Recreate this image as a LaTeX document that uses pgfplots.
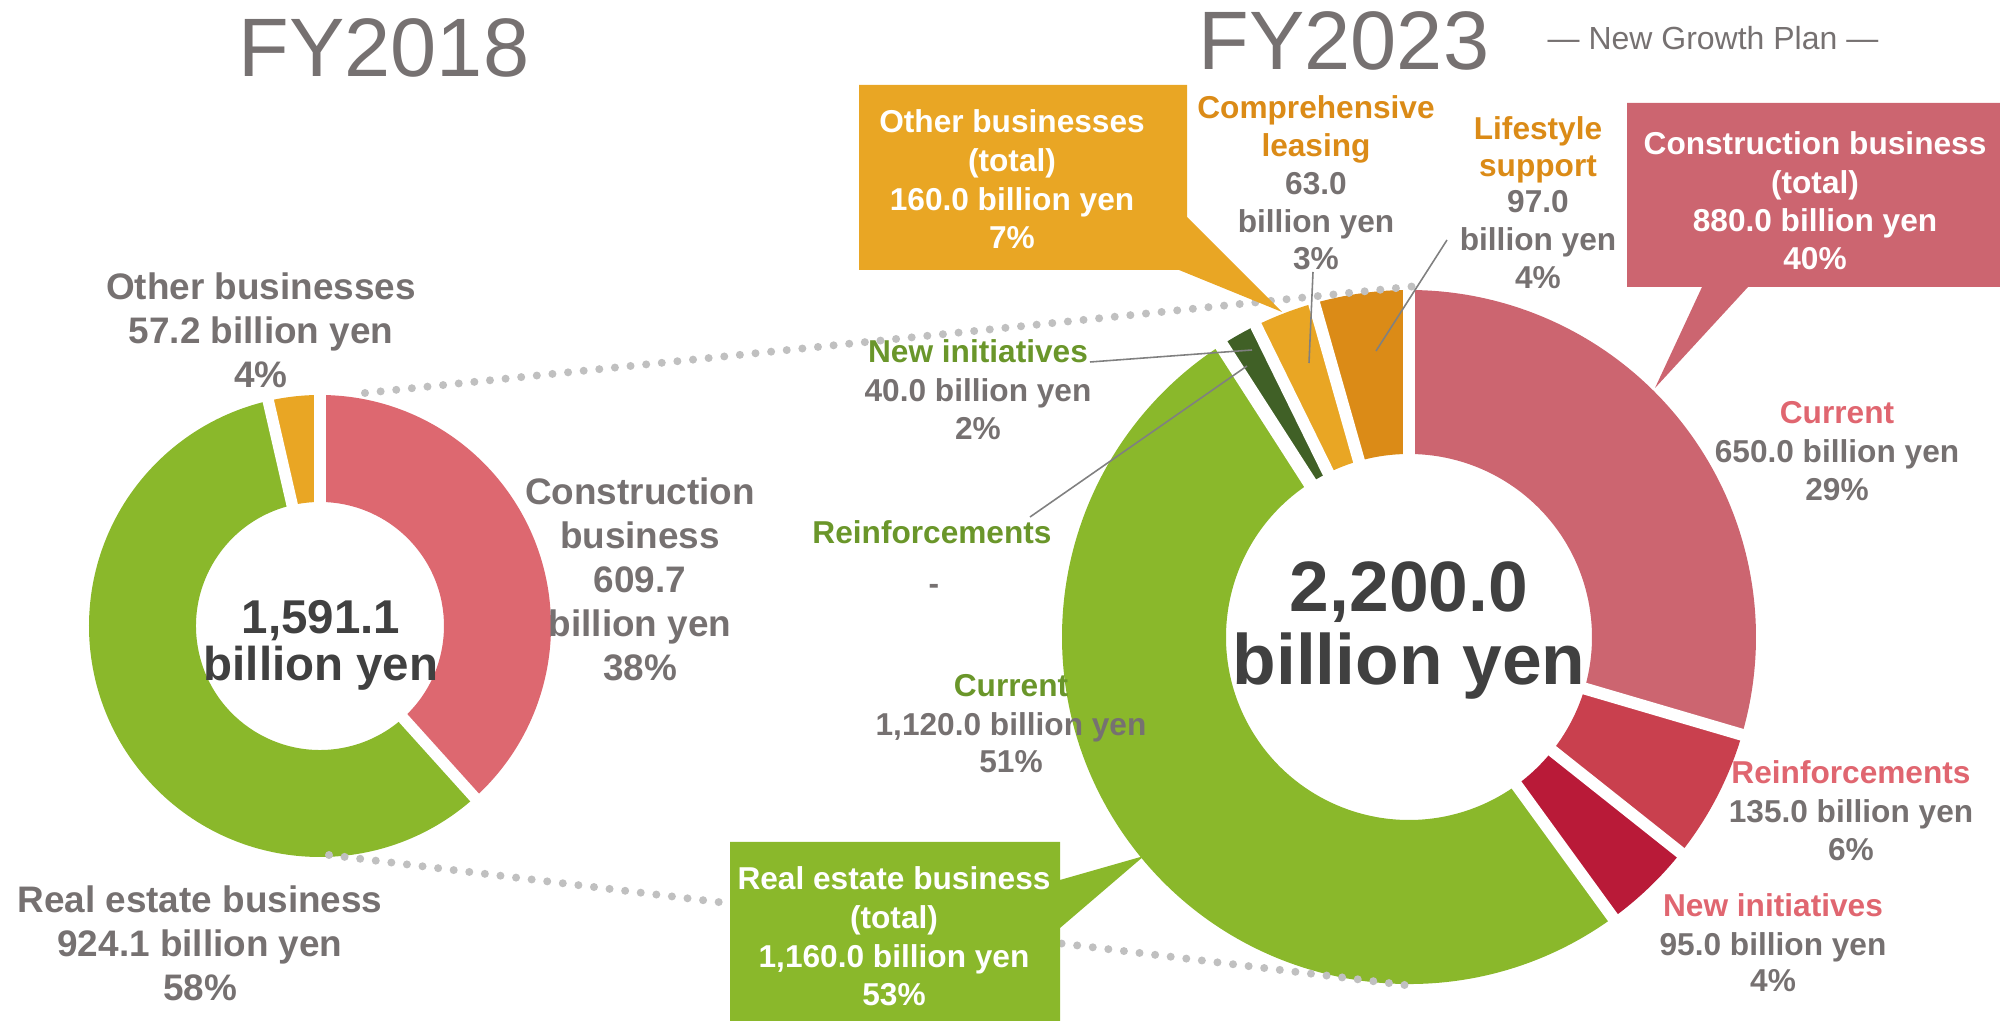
\documentclass[border=0pt]{standalone}
\usepackage{pgfplots}
\pgfplotsset{compat=1.18}
\usepackage{fontspec}
\setmainfont{Liberation Sans}

\definecolor{pinkL}{HTML}{DD6870}
\definecolor{pinkR}{HTML}{CC6570}
\definecolor{reinf}{HTML}{C9404E}
\definecolor{newin}{HTML}{B91A38}
\definecolor{grn}{HTML}{8AB82B}
\definecolor{dgrn}{HTML}{406026}
\definecolor{org}{HTML}{E9A624}
\definecolor{life}{HTML}{DB8B17}
\definecolor{gtxt}{HTML}{767171}
\definecolor{dtxt}{HTML}{404040}
\definecolor{grntxt}{HTML}{6A962A}
\definecolor{pinktxt}{HTML}{E06670}
\definecolor{orgtxt}{HTML}{DB8B17}
\definecolor{dotc}{HTML}{C0C0C0}
\definecolor{leader}{HTML}{808080}

% ring segment: cx cy Rout Rin start value total colour (values clockwise from 12 o'clock)
\newcommand\seg[8]{%
 \fill[#8] ({#1+#3*sin(#5/#7*360)},{#2-#3*cos(#5/#7*360)})
   arc[start angle={90-#5/#7*360}, end angle={90-(#5+#6)/#7*360}, radius={#3*0.1mm}]
   -- ({#1+#4*sin((#5+#6)/#7*360)},{#2-#4*cos((#5+#6)/#7*360)})
   arc[start angle={90-(#5+#6)/#7*360}, end angle={90-#5/#7*360}, radius={#4*0.1mm}]
   -- cycle;}
% white gap: cx cy R position total width
\newcommand\gap[6]{%
 \draw[white, line width=#6] (#1,#2) -- ({#1+(#3+15)*sin(#4/#5*360)},{#2-(#3+15)*cos(#4/#5*360)});}
\newcommand\tl[4]{\node[#3] at (#1,#2) {#4};}

\tikzset{
 ttl/.style={anchor=base, inner sep=0pt, text=gtxt, font=\fontsize{23.6pt}{28pt}\selectfont},
 sub/.style={anchor=base, inner sep=0pt, text=gtxt, font=\fontsize{9.1pt}{11pt}\selectfont},
 L/.style={anchor=base, inner sep=0pt, text=gtxt, font=\bfseries\fontsize{10.5pt}{12pt}\selectfont},
 R/.style={anchor=base, inner sep=0pt, text=gtxt, font=\bfseries\fontsize{9.0pt}{11pt}\selectfont},
 CL/.style={anchor=base, inner sep=0pt, text=dtxt, font=\bfseries\fontsize{13.5pt}{15pt}\selectfont},
 CR/.style={anchor=base, inner sep=0pt, text=dtxt, font=\bfseries\fontsize{20.3pt}{22pt}\selectfont},
 dots/.style={dotc, line width=0.8mm, line cap=round, dash pattern=on 0pt off 1.57mm},
 lead/.style={leader, line width=0.45pt},
}

\begin{document}
\begin{tikzpicture}
\begin{axis}[
  width=200mm, height=102.3mm, scale only axis,
  xmin=0, xmax=2000, ymin=0, ymax=1023, y dir=reverse,
  hide axis, clip=false,
]
\path (0,0) rectangle (2000,1023);

% ---------- FY2018 donut (billion yen): construction 609.7, real estate 924.1, other 57.2
\seg{320}{626}{231}{124}{0}{609.7}{1591.0}{pinkL}
\seg{320}{626}{231}{124}{609.7}{924.1}{1591.0}{grn}
\seg{320}{626}{231}{124}{1533.8}{57.2}{1591.0}{org}
\gap{320}{626}{231}{0}{1591.0}{1.15mm}
\gap{320}{626}{231}{609.7}{1591.0}{1.15mm}
\gap{320}{626}{231}{1533.8}{1591.0}{1.15mm}

% ---------- FY2023 donut: 650, 135, 95, 1120, 0, 40, 63, 97
\seg{1409}{637}{347}{183}{0}{650}{2200}{pinkR}
\seg{1409}{637}{347}{183}{650}{135}{2200}{reinf}
\seg{1409}{637}{347}{183}{785}{95}{2200}{newin}
\seg{1409}{637}{347}{183}{880}{1120}{2200}{grn}
\seg{1409}{637}{347}{183}{2000}{40}{2200}{dgrn}
\seg{1409}{637}{347}{183}{2040}{63}{2200}{org}
\seg{1409}{637}{347}{183}{2103}{97}{2200}{life}
\gap{1409}{637}{347}{0}{2200}{1.2mm}
\gap{1409}{637}{347}{650}{2200}{1.2mm}
\gap{1409}{637}{347}{785}{2200}{1.2mm}
\gap{1409}{637}{347}{880}{2200}{1.2mm}
\gap{1409}{637}{347}{2000}{2200}{1.4mm}
\gap{1409}{637}{347}{2040}{2200}{1.2mm}
\gap{1409}{637}{347}{2103}{2200}{1.2mm}

% ---------- dotted connectors
\draw[dots] (365,393) -- (1417,286);
\draw[dots] (329,855) -- (1413,986);

% ---------- callouts
\fill[org] (859,85) -- (1187,85) -- (1187,217) -- (1282,312) -- (1179,270) -- (859,270) -- cycle;
\fill[pinkR] (1627,103) -- (2000,103) -- (2000,287) -- (1748,287) -- (1655,388) -- (1702,287) -- (1627,287) -- cycle;
\fill[grn] (730,842) -- (1060,842) -- (1060,880) -- (1144,856) -- (1060,928) -- (1060,1021) -- (730,1021) -- cycle;

% ---------- leader lines
\draw[lead] (1090,362) -- (1252,350);
\draw[lead] (1030,517) -- (1247,366);
\draw[lead] (1313,272) -- (1309,363);
\draw[lead] (1447,240) -- (1376,351);

% ---------- titles
\tl{384}{77}{ttl}{FY2018}
\tl{1344}{70}{ttl}{FY2023}
\tl{1713}{50}{sub}{— New Growth Plan —}

% ---------- FY2018 labels
\tl{261}{300}{L}{Other businesses}
\tl{261}{344}{L}{57.2 billion yen}
\tl{261}{388}{L}{4\%}
\tl{640}{505}{L}{Construction}
\tl{640}{549}{L}{business}
\tl{640}{593}{L}{609.7}
\tl{640}{637}{L}{billion yen}
\tl{640}{681}{L}{38\%}
\tl{200}{913}{L}{Real estate business}
\tl{200}{957}{L}{924.1 billion yen}
\tl{200}{1001}{L}{58\%}
\tl{321}{634}{CL}{1,591.1}
\tl{321}{681}{CL}{billion yen}

% ---------- FY2023 labels
\tl{1012}{133}{R,text=white}{Other businesses}
\tl{1012}{172}{R,text=white}{(total)}
\tl{1012}{211}{R,text=white}{160.0 billion yen}
\tl{1012}{249}{R,text=white}{7\%}

\tl{1316}{119}{R,text=orgtxt}{Comprehensive}
\tl{1316}{157}{R,text=orgtxt}{leasing}
\tl{1316}{195}{R}{63.0}
\tl{1316}{233}{R}{billion yen}
\tl{1316}{270}{R}{3\%}

\tl{1538}{140}{R,text=orgtxt}{Lifestyle}
\tl{1538}{177}{R,text=orgtxt}{support}
\tl{1538}{213}{R}{97.0}
\tl{1538}{251}{R}{billion yen}
\tl{1538}{289}{R}{4\%}

\tl{1815}{155}{R,text=white}{Construction business}
\tl{1815}{194}{R,text=white}{(total)}
\tl{1815}{232}{R,text=white}{880.0 billion yen}
\tl{1815}{270}{R,text=white}{40\%}

\tl{1837}{424}{R,text=pinktxt}{Current}
\tl{1837}{463}{R}{650.0 billion yen}
\tl{1837}{501}{R}{29\%}

\tl{1851}{784}{R,text=pinktxt}{Reinforcements}
\tl{1851}{823}{R}{135.0 billion yen}
\tl{1851}{861}{R}{6\%}

\tl{1773}{917}{R,text=pinktxt}{New initiatives}
\tl{1773}{956}{R}{95.0 billion yen}
\tl{1773}{992}{R}{4\%}

\tl{894}{890}{R,text=white}{Real estate business}
\tl{894}{929}{R,text=white}{(total)}
\tl{894}{968}{R,text=white}{1,160.0 billion yen}
\tl{894}{1006}{R,text=white}{53\%}

\tl{978}{363}{R,text=grntxt}{New initiatives}
\tl{978}{402}{R}{40.0 billion yen}
\tl{978}{440}{R}{2\%}

\tl{932}{544}{R,text=grntxt}{Reinforcements}
\tl{934}{595}{R}{-}

\tl{1011}{697}{R,text=grntxt}{Current}
\tl{1011}{736}{R}{1,120.0 billion yen}
\tl{1011}{773}{R}{51\%}

\tl{1409}{612}{CR}{2,200.0}
\tl{1409}{685}{CR}{billion yen}
\end{axis}
\pgfresetboundingbox
\useasboundingbox (0,0) rectangle (200mm,102.3mm);
\end{tikzpicture}
\end{document}
